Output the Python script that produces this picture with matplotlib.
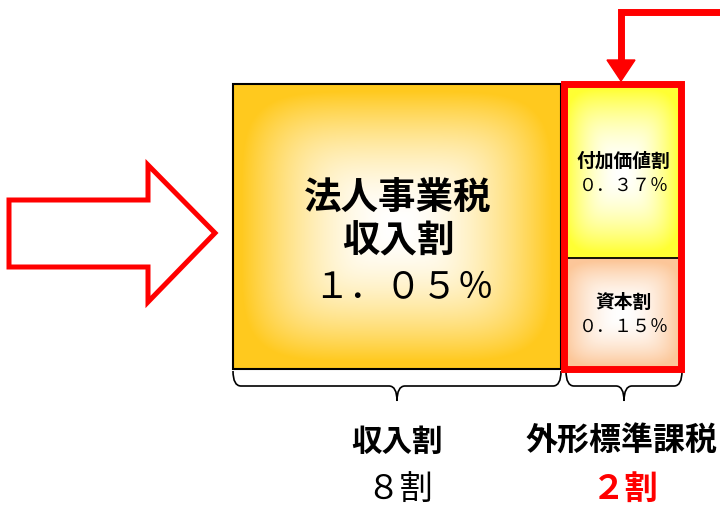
import matplotlib.pyplot as plt
import numpy as np
from matplotlib.patches import Rectangle, Polygon, PathPatch
from matplotlib.path import Path

plt.rcParams['font.family'] = ['Noto Sans CJK JP', 'DejaVu Sans']

# 内容（図のテキストと値）
box_titles = ['法人事業税\n収入割', '付加価値割', '資本割']
box_rates = ['１．０５％', '０．３７％', '０．１５％']
group_names = ['収入割', '外形標準課税']
group_shares = ['８割', '２割']

# 色
gold = (1.0, 0.79, 0.12)
yellow = (1.0, 1.0, 0.2)
peach = (0.99, 0.78, 0.60)
red = '#FF0000'


def grad_box(ax, x0, x1, y0, y1, edge_rgb):
    # 中心が白、外側が色の矩形グラデーション（角をやや丸めたもの）
    n = 300
    xs = np.linspace(-1, 1, n)
    X, Y = np.meshgrid(xs, xs)
    t = (np.abs(X) ** 5 + np.abs(Y) ** 5) ** (1 / 5)
    f = np.clip(t / 0.95, 0, 1) ** 1.8
    c = np.array(edge_rgb)
    img = (1 - f[..., None]) * np.ones(3) + f[..., None] * c
    ax.imshow(img, extent=(x0, x1, y1, y0), aspect='auto', zorder=1,
              interpolation='bilinear')


def brace(ax, x0, x1, yt, depth=15, tip=30, r=8):
    xm = (x0 + x1) / 2
    yb = yt + depth
    verts = [(x0, yt), (x0, yb), (x0 + r, yb),
             (xm - r, yb), (xm, yb), (xm, yt + tip),
             (xm, yb), (xm + r, yb),
             (x1 - r, yb), (x1, yb), (x1, yt)]
    codes = [Path.MOVETO, Path.CURVE3, Path.CURVE3,
             Path.LINETO, Path.CURVE3, Path.CURVE3,
             Path.CURVE3, Path.CURVE3,
             Path.LINETO, Path.CURVE3, Path.CURVE3]
    ax.add_patch(PathPatch(Path(verts, codes), fill=False, lw=1.2,
                           edgecolor='black', zorder=3))


fig = plt.figure(figsize=(7.2, 5.07), dpi=100)
ax = fig.add_axes([0, 0, 1, 1])
ax.set_xlim(0, 720)
ax.set_ylim(507, 0)
ax.axis('off')

# 左の白抜き矢印
ax.add_patch(Polygon([(9, 200), (148, 200), (148, 165), (215, 233),
                      (148, 302), (148, 267), (9, 267)], closed=True,
                     facecolor='white', edgecolor=red, lw=3.6,
                     joinstyle='miter', zorder=2))

# 収入割のボックス
grad_box(ax, 233, 561, 84, 369, gold)
ax.add_patch(Rectangle((233, 84), 328, 285, fill=False, edgecolor='black',
                       lw=1.5, zorder=2))

# 外形標準課税のボックス
grad_box(ax, 561, 683, 84, 258, yellow)
grad_box(ax, 561, 683, 258, 369, peach)
ax.plot([564, 681], [258, 258], color='black', lw=1.3, zorder=3)
ax.add_patch(Rectangle((564, 84), 117, 285, fill=False, edgecolor=red,
                       lw=5, joinstyle='miter', zorder=4))

# 上の赤い矢印
ax.plot([720, 621, 621], [12, 12, 62], color=red, lw=5,
        solid_joinstyle='miter', zorder=4)
ax.add_patch(Polygon([(607, 60), (635, 60), (621, 81)], closed=True,
                     facecolor=red, edgecolor=red, lw=1, zorder=4))

# ボックス内の文字
ax.text(398, 219, box_titles[0], ha='center', va='center', fontsize=27,
        fontweight='bold', linespacing=1.15, zorder=5)
ax.text(403, 287, box_rates[0], ha='center', va='center', fontsize=26,
        fontweight='normal', zorder=5)
ax.text(623, 161, box_titles[1], ha='center', va='center', fontsize=13.5,
        fontweight='bold', zorder=5)
ax.text(624, 186, box_rates[1], ha='center', va='center', fontsize=13,
        fontweight='normal', zorder=5)
ax.text(623, 302, box_titles[2], ha='center', va='center', fontsize=13.5,
        fontweight='bold', zorder=5)
ax.text(624, 327, box_rates[2], ha='center', va='center', fontsize=13,
        fontweight='normal', zorder=5)

# 波かっこ
brace(ax, 233, 561, 371)
brace(ax, 566, 682, 371)

# 下のラベル
ax.text(397, 442, group_names[0], ha='center', va='center', fontsize=22,
        fontweight='bold')
ax.text(622, 442, group_names[1], ha='center', va='center', fontsize=23,
        fontweight='bold')
ax.text(400, 489, group_shares[0], ha='center', va='center', fontsize=24,
        fontweight='normal')
ax.text(625, 489, group_shares[1], ha='center', va='center', fontsize=24,
        fontweight='bold', color=red)

fig.savefig('out.png', dpi=100)
